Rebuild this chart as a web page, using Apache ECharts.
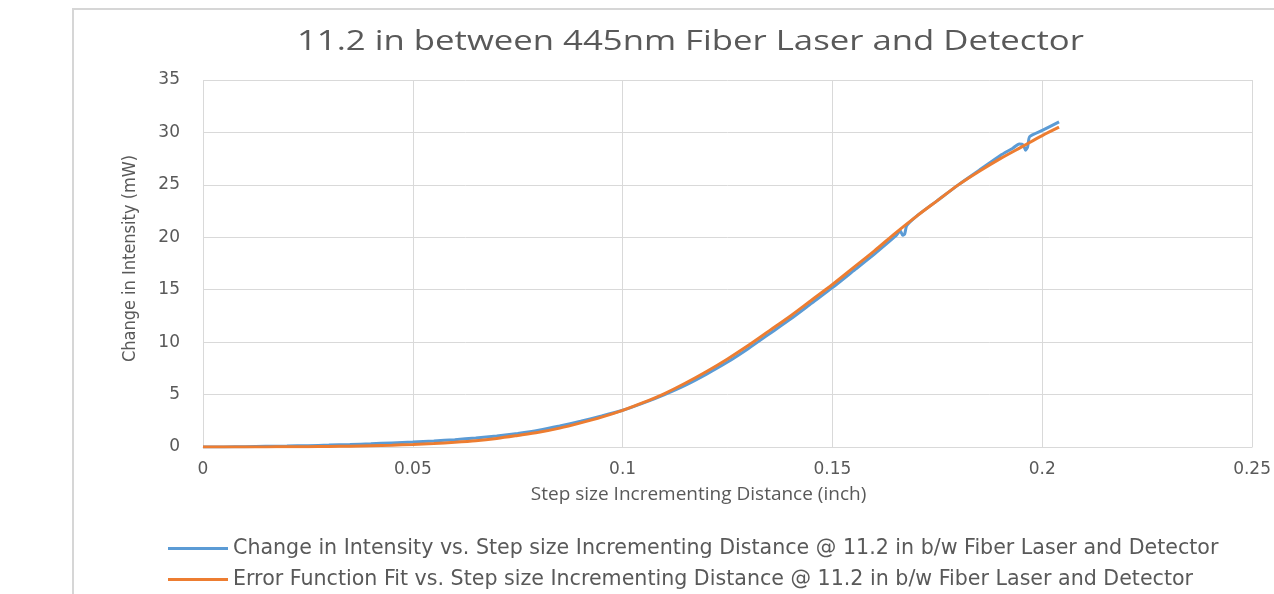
<!DOCTYPE html>
<html>
<head>
<meta charset="utf-8">
<script src="https://cdn.jsdelivr.net/npm/echarts@6/dist/echarts.min.js"></script>
<style>
html,body{margin:0;padding:0;background:#fff;}
#chart{width:1274px;height:594px;}
</style>
</head>
<body>
<div id="chart"></div>
<script>
const titleText = '11.2 in between 445nm Fiber Laser and Detector';
const xAxisName = 'Step size Incrementing Distance (inch)';
const yAxisName = 'Change in Intensity (mW)';
const seriesNames = [
  'Change in Intensity vs. Step size Incrementing Distance @ 11.2 in b/w Fiber Laser and Detector',
  'Error Function Fit vs. Step size Incrementing Distance @ 11.2 in b/w Fiber Laser and Detector'
];
const measuredX = [0,0.005,0.01,0.015,0.02,0.025,0.03,0.035,0.04,0.045,0.05,0.055,0.06,0.065,0.07,0.075,0.08,0.085,0.09,0.095,0.1,0.105,0.11,0.115,0.12,0.125,0.13,0.135,0.14,0.145,0.15,0.155,0.16,0.165,0.1662,0.1667,0.1672,0.1677,0.17,0.175,0.18,0.185,0.19,0.193,0.1945,0.1955,0.196,0.1965,0.197,0.2,0.204];
const measuredY = [0,0.01,0.03,0.06,0.09,0.13,0.18,0.24,0.31,0.39,0.47,0.57,0.7,0.86,1.05,1.3,1.6,2.0,2.45,2.95,3.5,4.2,5.0,5.9,6.95,8.1,9.4,10.8,12.2,13.7,15.2,16.8,18.4,20.1,20.6,20.2,20.3,21.1,22.0,23.5,25.0,26.4,27.8,28.5,28.9,28.8,28.3,28.6,29.6,30.2,31.0];
const fitX = [0,0.005,0.01,0.015,0.02,0.025,0.03,0.035,0.04,0.045,0.05,0.055,0.06,0.065,0.07,0.075,0.08,0.085,0.09,0.095,0.1,0.105,0.11,0.115,0.12,0.125,0.13,0.135,0.14,0.145,0.15,0.155,0.16,0.165,0.17,0.175,0.18,0.185,0.19,0.195,0.2,0.204];
const fitY = [0,0,0.005,0.01,0.02,0.03,0.05,0.08,0.12,0.17,0.24,0.33,0.45,0.6,0.82,1.1,1.4,1.8,2.3,2.85,3.5,4.25,5.1,6.1,7.2,8.4,9.7,11.1,12.5,14.0,15.5,17.1,18.7,20.4,22.0,23.5,25.0,26.3,27.5,28.6,29.7,30.5];
const xTicks = {min:0, max:0.25, step:0.05};
const yTicks = {min:0, max:35, step:5};

const zip = (xs, ys) => xs.map((x, i) => [x, ys[i]]);
const chart = echarts.init(document.getElementById('chart'));
const grey = '#595959';
const font = "'Open Sans', 'Noto Sans', sans-serif";
const tickFont = "'DejaVu Sans', sans-serif";
chart.setOption({
  animation: false,
  backgroundColor: '#fff',
  graphic: [{
    type: 'rect', silent: true, z: -1,
    shape: {x: 73, y: 9, width: 1300, height: 700},
    style: {fill: 'none', stroke: '#d6d6d6', lineWidth: 2}
  }, {
    type: 'text', silent: true, x: 297, y: 42, scaleX: 1.24,
    style: {text: titleText, fontFamily: font, fontSize: 28, fill: grey,
            textAlign: 'left', textVerticalAlign: 'middle'}
  }],
  legend: {
    orient: 'vertical', left: 168, top: 538, itemGap: 10, padding: 0,
    itemWidth: 60, itemHeight: 3, icon: 'rect',
    textStyle: {fontFamily: tickFont, fontSize: 20.6, color: grey},
    data: seriesNames
  },
  grid: {left: 203, right: 19, top: 80, bottom: 147},
  xAxis: {
    type: 'value', min: xTicks.min, max: xTicks.max, interval: xTicks.step,
    name: xAxisName, nameLocation: 'middle', nameGap: 38,
    nameTextStyle: {fontFamily: font, fontSize: 19, color: grey, padding: [0, 58, 0, 0]},
    axisLine: {show: true, lineStyle: {color: '#d9d9d9'}},
    axisTick: {show: false},
    axisLabel: {fontFamily: tickFont, fontSize: 17, color: grey, margin: 14},
    splitLine: {show: true, lineStyle: {color: '#d9d9d9'}}
  },
  yAxis: {
    type: 'value', min: yTicks.min, max: yTicks.max, interval: yTicks.step,
    name: yAxisName, nameLocation: 'middle', nameGap: 64, nameRotate: 90,
    nameTextStyle: {fontFamily: "'Liberation Sans Narrow', 'DejaVu Sans Condensed', sans-serif", fontSize: 18, color: grey, padding: [0, 0, 0, 10]},
    axisLine: {show: false},
    axisTick: {show: false},
    axisLabel: {fontFamily: tickFont, fontSize: 17, color: grey, margin: 23},
    splitLine: {show: true, lineStyle: {color: '#d9d9d9'}}
  },
  series: [
    {name: seriesNames[0], type: 'line', data: zip(measuredX, measuredY), showSymbol: false, symbol: 'none',
     smooth: 0.2, lineStyle: {color: '#5B9BD5', width: 3}, itemStyle: {color: '#5B9BD5'}},
    {name: seriesNames[1], type: 'line', data: zip(fitX, fitY), showSymbol: false, symbol: 'none',
     smooth: 0.3, lineStyle: {color: '#ED7D31', width: 3}, itemStyle: {color: '#ED7D31'}}
  ]
});
</script>
</body>
</html>
